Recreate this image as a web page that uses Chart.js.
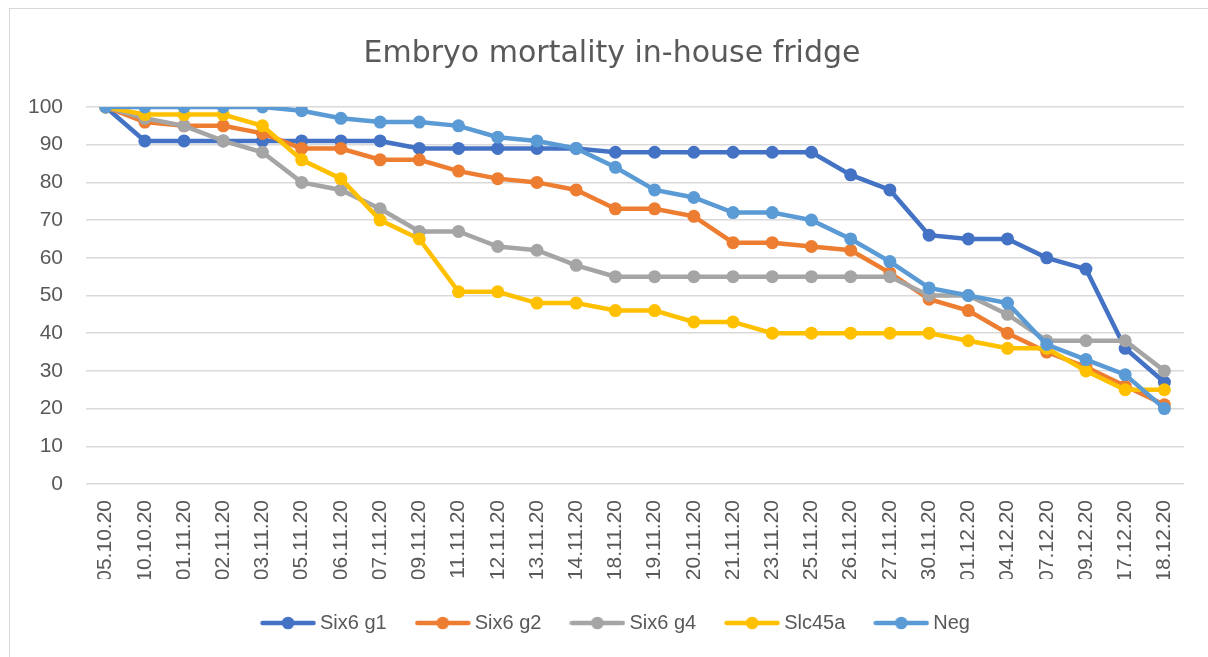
<!DOCTYPE html>
<html><head><meta charset="utf-8">
<script src="https://cdn.jsdelivr.net/npm/chart.js@4.4.0/dist/chart.umd.min.js"></script>
<style>
html,body{margin:0;padding:0;background:#fff;}
#wrap{position:relative;width:1208px;height:657px;overflow:hidden;background:#fff;}
#frame{position:absolute;left:9px;top:8px;width:1240px;height:700px;border:1.5px solid #d9d9d9;box-sizing:border-box;}
canvas{position:absolute;left:0;top:0;}
</style></head><body>
<div id="wrap"><div id="frame"></div><canvas id="c" width="1208" height="657"></canvas></div>
<script>
const categories = ['05.10.20','10.10.20','01.11.20','02.11.20','03.11.20','05.11.20','06.11.20','07.11.20','09.11.20','11.11.20','12.11.20','13.11.20','14.11.20','18.11.20','19.11.20','20.11.20','21.11.20','23.11.20','25.11.20','26.11.20','27.11.20','30.11.20','01.12.20','04.12.20','07.12.20','09.12.20','17.12.20','18.12.20'];
const seriesNames = ['Six6 g1','Six6 g2','Six6 g4','Slc45a','Neg'];
const six6g1 = [100,91,91,91,91,91,91,91,89,89,89,89,89,88,88,88,88,88,88,82,78,66,65,65,60,57,36,27];
const six6g2 = [100,96,95,95,93,89,89,86,86,83,81,80,78,73,73,71,64,64,63,62,56,49,46,40,35,31,26,21];
const six6g4 = [100,97,95,91,88,80,78,73,67,67,63,62,58,55,55,55,55,55,55,55,55,50,50,45,38,38,38,30];
const slc45a = [100,98,98,98,95,86,81,70,65,51,51,48,48,46,46,43,43,40,40,40,40,40,38,36,36,30,25,25];
const neg    = [100,100,100,100,100,99,97,96,96,95,92,91,89,84,78,76,72,72,70,65,59,52,50,48,37,33,29,20];
const yTickMin = 0, yTickMax = 100, yTickStep = 10;
const titleText = 'Embryo mortality in-house fridge';

const colors = ['#4472C4','#ED7D31','#A5A5A5','#FFC000','#5B9BD5'];
const values = [six6g1, six6g2, six6g4, slc45a, neg];

function legendImg(color){
  const c = document.createElement('canvas');
  c.width = 56; c.height = 14;
  const x = c.getContext('2d');
  x.strokeStyle = color; x.lineWidth = 4.5; x.lineCap = 'round';
  x.beginPath(); x.moveTo(2.5,7); x.lineTo(53.5,7); x.stroke();
  x.fillStyle = color; x.beginPath(); x.arc(28,7,6.3,0,Math.PI*2); x.fill();
  return c;
}
const legendImgs = colors.map(legendImg);

const datasets = seriesNames.map((n,i)=>({
  label: n,
  data: values[i],
  borderColor: colors[i],
  backgroundColor: colors[i],
  borderWidth: 4.5,
  pointRadius: 6.5,
  pointHoverRadius: 6.5,
  pointBorderWidth: 0,
  pointBackgroundColor: colors[i],
  tension: 0,
  order: seriesNames.length - 1 - i
}));

const shiftBoxes = {
  id:'shiftBoxes',
  afterLayout(chart){
    const lg = chart.legend;
    if (lg){ lg.left += 26; lg.right += 26; }
    const tb = chart.titleBlock;
    if (tb){ tb.left += 20; tb.right += 20; }
  }
};

new Chart(document.getElementById('c'), {
  type:'line',
  data:{ labels: categories, datasets },
  plugins:[shiftBoxes],
  options:{
    responsive:false,
    animation:false,
    devicePixelRatio:1,
    layout:{ padding:{ left:0, right:24, top:0, bottom:14 } },
    plugins:{
      title:{
        display:true,
        text:titleText,
        color:'#595959',
        font:{ family:'DejaVu Sans', size:30, weight:'normal', lineHeight:1.2 },
        padding:{ top:36, bottom:35 }
      },
      legend:{
        display:true,
        position:'bottom',
        labels:{
          usePointStyle:true,
          pointStyleWidth:44,
          padding:34,
          color:'#595959',
          font:{ family:'Liberation Sans', size:20 },
          generateLabels(chart){
            return chart.data.datasets.map((ds,i)=>({
              text: ds.label,
              pointStyle: legendImgs[i],
              fillStyle: ds.borderColor,
              strokeStyle: ds.borderColor,
              lineWidth: 0,
              hidden: false,
              datasetIndex: i,
              fontColor:'#595959'
            }));
          }
        }
      },
      tooltip:{ enabled:false }
    },
    scales:{
      x:{
        offset:true,
        grid:{ display:false, drawTicks:false },
        border:{ display:false },
        ticks:{
          autoSkip:false, maxRotation:90, minRotation:90, padding:16,
          color:'#595959', font:{ family:'Liberation Sans', size:21 }
        },
        afterFit(s){ s.height = 95; }
      },
      y:{
        min:yTickMin, max:yTickMax,
        grid:{ color:'#d9d9d9', lineWidth:1.5, drawTicks:false },
        border:{ display:false },
        ticks:{ stepSize:yTickStep, padding:23, color:'#595959', font:{ family:'Liberation Sans', size:21 } },
        afterFit(s){ s.width = 86; }
      }
    }
  }
});
</script>
</body></html>
